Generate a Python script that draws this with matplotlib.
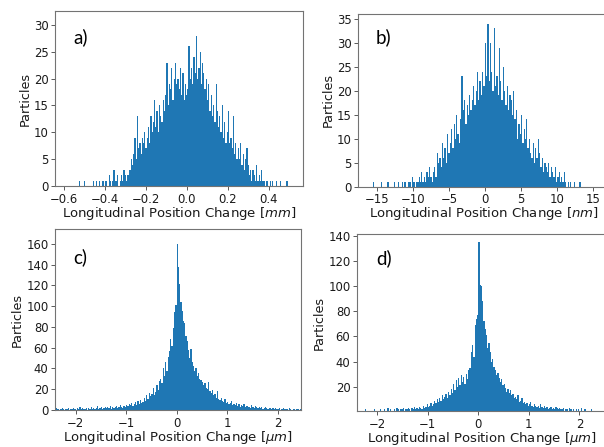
import numpy as np
import matplotlib
matplotlib.use("Agg")
import matplotlib.pyplot as plt

# ---------------- data (bin counts) ----------------
# a) mm, bins of 0.006 starting at -0.525
a_start, a_width = -0.525, 0.006
counts_a = [
    1,0,0,0,1,0,0,0,0,0,
    0,1,0,0,1,0,1,0,0,1,
    0,1,1,0,2,1,0,1,3,1,
    1,2,0,1,2,1,3,2,1,2,
    2,3,5,4,6,9,5,13,7,8,
    6,9,8,10,7,9,11,8,13,10,
    12,16,11,14,10,15,13,12,16,14,
    17,23,15,19,18,22,16,20,23,19,
    20,18,22,17,21,16,19,17,18,26,
    20,22,19,24,21,28,20,22,25,19,
    23,21,18,20,16,19,14,17,13,15,
    12,19,14,11,13,10,15,9,12,8,
    10,14,8,9,7,13,6,8,5,7,
    5,8,4,6,3,5,7,4,2,3,
    1,3,2,1,4,1,2,1,3,1,
    1,0,1,1,0,1,0,1,0,0,
    1,0,0,1,0,0,0,0,1,1,
]

# b) nm, bins of 0.18 starting at -15.75
b_start, b_width = -15.75, 0.18
counts_b = [
    0,1,0,0,0,0,0,1,0,0,
    0,0,1,0,0,0,0,1,0,0,
    1,0,0,1,0,1,0,0,1,1,
    0,2,1,0,1,1,2,1,3,1,
    2,1,3,2,4,2,1,3,4,2,
    7,5,6,4,9,6,8,5,11,7,
    9,12,8,13,10,15,11,9,14,23,
    16,18,13,17,15,19,16,18,21,17,
    20,24,18,22,19,24,21,30,23,34,
    22,30,24,20,33,21,23,19,29,22,
    18,25,20,17,21,16,19,18,15,20,
    14,16,10,13,11,15,9,12,10,14,
    8,10,7,6,9,5,8,6,10,7,
    4,6,3,5,4,3,5,2,4,3,
    2,4,1,2,3,1,2,1,3,1,
    0,1,0,1,0,0,1,0,0,0,
    1,0,0,0,0,
]

# c) um, bins of 0.025 starting at -2.4
c_start, c_width = -2.4, 0.025
counts_c = [
    2,1,1,0,1,2,1,0,1,1,2,0,1,1,2,1,0,2,1,3,
    1,2,1,1,2,0,2,1,3,1,2,1,2,4,1,2,3,1,2,3,
    2,3,2,4,1,3,2,3,4,2,3,5,3,2,4,3,5,4,6,5,
    7,4,6,8,5,9,6,10,7,8,
    12,9,14,11,16,13,15,21,14,17,
    24,19,28,30,26,40,33,46,38,51,
    57,68,62,79,94,101,
    160,138,121,104,95,86,
    84,71,66,58,50,59,46,42,38,40,
    33,36,30,29,27,24,26,21,20,27,
    18,16,19,14,15,12,18,11,10,12,
    9,8,11,7,8,6,7,9,5,6,
    5,7,4,6,3,5,4,6,3,4,
    4,3,2,5,3,2,4,3,2,3,
    2,3,1,2,3,2,1,2,2,1,
    2,1,2,1,1,2,0,1,2,1,
    1,1,0,2,1,0,1,1,0,1,
    1,0,1,
]

# d) um, bins of 0.025 starting at -2.4
d_start, d_width = -2.4, 0.025
counts_d = [
    1,0,1,1,0,1,2,0,1,1,0,1,1,2,0,1,1,0,2,1,
    1,2,1,0,3,1,2,1,1,2,1,3,2,1,2,2,3,1,2,2,
    3,2,1,3,2,4,2,3,2,4,3,2,5,3,4,6,4,5,7,5,
    6,9,7,10,8,11,9,13,10,12,
    14,11,16,13,18,15,22,17,25,20,
    27,21,29,24,28,22,30,26,33,35,
    48,53,44,69,74,77,
    135,101,100,88,72,66,
    61,51,55,48,40,42,36,33,29,31,
    27,24,26,21,22,19,16,18,15,17,
    13,14,11,12,10,13,8,9,11,7,
    8,6,7,5,6,8,5,4,6,5,
    4,5,3,6,4,3,5,3,4,2,
    3,4,2,3,2,4,3,2,3,2,
    2,3,1,2,2,1,3,2,1,2,
    1,2,1,2,1,3,1,1,2,1,
    1,0,1,2,1,1,0,1,1,0,1,1,0,1,
]

panel_letters = ["a)", "b)", "c)", "d)"]
xlabels = [r"Longitudinal Position Change [$mm$]",
           r"Longitudinal Position Change [$nm$]",
           r"Longitudinal Position Change [$\mu m$]",
           r"Longitudinal Position Change [$\mu m$]"]
ylabel = "Particles"

# ---------------- figure ----------------
W, H = 604, 447
fig = plt.figure(figsize=(W / 100, H / 100), dpi=100)

def rect(x0, x1, y0, y1):
    return [x0 / W, 1 - y1 / H, (x1 - x0) / W, (y1 - y0) / H]

panels = [
    dict(counts=counts_a, start=a_start, width=a_width, rect=rect(55, 303.3, 11, 186),
         xlim=(-0.642, 0.569), ylim=(0, 32.6), xticks=[-0.6, -0.4, -0.2, 0.0, 0.2, 0.4],
         yticks=[0, 5, 10, 15, 20, 25, 30], fmt="{:.1f}", letter_xy=(73, 43.5)),
    dict(counts=counts_b, start=b_start, width=b_width, rect=rect(358, 610, 14, 186.5),
         xlim=(-17.68, 17.32), ylim=(0, 36.0), xticks=[-15, -10, -5, 0, 5, 10, 15],
         yticks=[0, 5, 10, 15, 20, 25, 30, 35], fmt="{:.0f}", letter_xy=(376, 43.5)),
    dict(counts=counts_c, start=c_start, width=c_width, rect=rect(55, 301, 229.3, 410),
         xlim=(-2.406, 2.465), ylim=(0, 174), xticks=[-2, -1, 0, 1, 2],
         yticks=[0, 20, 40, 60, 80, 100, 120, 140, 160], fmt="{:.0f}", letter_xy=(73, 263.3)),
    dict(counts=counts_d, start=d_start, width=d_width, rect=rect(357, 607, 234, 411),
         xlim=(-2.402, 2.548), ylim=(0.65, 141.6), xticks=[-2, -1, 0, 1, 2],
         yticks=[20, 40, 60, 80, 100, 120, 140], fmt="{:.0f}", letter_xy=(376, 264.3)),
]

tick_fs = 8.4
xlabel_fs = 9.5
ylabel_fs = 9.2
for p, letter, xl in zip(panels, panel_letters, xlabels):
    ax = fig.add_axes(p["rect"])
    cnt = np.array(p["counts"], dtype=float)
    left_edges = p["start"] + p["width"] * np.arange(len(cnt))
    ax.bar(left_edges, cnt, width=p["width"], align="edge", color="#1f77b4",
           linewidth=0, antialiased=True)
    ax.set_xlim(*p["xlim"])
    ax.set_ylim(*p["ylim"])
    ax.set_xticks(p["xticks"])
    ax.set_xticklabels([p["fmt"].format(t).replace("-", "\u2212") for t in p["xticks"]])
    ax.set_yticks(p["yticks"])
    ax.tick_params(labelsize=tick_fs, colors="0.35", labelcolor="#1a1a1a",
                   length=3.2, width=0.7, pad=1.5)
    for s in ax.spines.values():
        s.set_color("0.45")
        s.set_linewidth(0.8)
    ax.set_xlabel(xl, fontsize=xlabel_fs, color="#1a1a1a", labelpad=-0.5)
    ax.set_ylabel(ylabel, fontsize=ylabel_fs, color="#1a1a1a", labelpad=1.5)
    lx, ly = p["letter_xy"]
    fig.text(lx / W, 1 - ly / H, letter, fontsize=13.5, family=["Lato", "DejaVu Sans"],
             ha="left", va="baseline", color="black")

fig.savefig("out.png", dpi=100)
